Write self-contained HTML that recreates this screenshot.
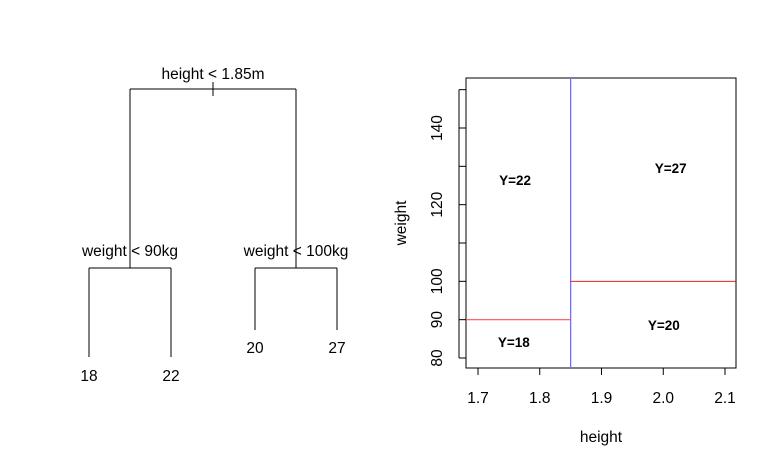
<!DOCTYPE html>
<html><head><meta charset="utf-8"><style>
body{margin:0;background:#fff}
svg{font-family:"Liberation Sans",sans-serif}
</style></head><body>
<svg id="c" width="776" height="467" xmlns="http://www.w3.org/2000/svg"></svg>
<script>
const xTicks=[1.7,1.8,1.9,2.0,2.1];
const yTicks=[80,90,100,110,120,130,140,150];
const yLabels=[80,90,100,120,140];
const splitHeight=1.85;
const splitWeightLeft=90;
const splitWeightRight=100;
const regionLabels=["Y=22","Y=27","Y=18","Y=20"];
const regionX=[1.76,2.012,1.758,2.001];
const regionY=[125.1,128.3,82.9,87.3];
const leafValues=[18,22,20,27];
const X0=1.7,X1=2.1,PX0=478,PX1=725;
const Y0=80,Y1=140,PY0=358,PY1=128;
const FS=15.5;
const sx=v=>PX0+(v-X0)*(PX1-PX0)/(X1-X0);
const sy=v=>PY0-(v-Y0)*(PY0-PY1)/(Y1-Y0);
const svg=document.getElementById('c');
const NS='http://www.w3.org/2000/svg';
function mk(t,a,name,txt){const e=document.createElementNS(NS,t);for(const k in a)e.setAttribute(k,a[k]);


if(txt!==undefined)e.textContent=txt;svg.appendChild(e);return e;}
const L=466,R=736,T=78,B=368;
mk('rect',{x:L,y:T,width:R-L,height:B-T,fill:'none',stroke:'#000'},'plot-frame');
xTicks.forEach(v=>{mk('line',{x1:sx(v),x2:sx(v),y1:B,y2:B+7,stroke:'#000'},'x-tick');
mk('text',{x:sx(v),y:B+35,'text-anchor':'middle','font-size':FS},'x-tick-label',v.toFixed(1));});
mk('line',{x1:sx(1.7),x2:sx(2.1),y1:B,y2:B,stroke:'#000'},'x-axis');
yTicks.forEach(v=>{mk('line',{x1:L,x2:L-7,y1:sy(v),y2:sy(v),stroke:'#000'},'y-tick');});
mk('line',{x1:L-7,x2:L-7,y1:sy(80),y2:sy(150),stroke:'#000'},'y-axis');
yLabels.forEach(v=>{const y=sy(v),x=L-24;mk('text',{x:x,y:y,'text-anchor':'middle','font-size':FS,transform:`rotate(-90 ${x} ${y})`},'y-tick-label',v);});
mk('text',{x:601,y:442,'text-anchor':'middle','font-size':FS},'x-axis-title','height');
mk('text',{x:406,y:223,'text-anchor':'middle','font-size':FS,transform:'rotate(-90 406 223)'},'y-axis-title','weight');
mk('line',{x1:sx(splitHeight),x2:sx(splitHeight),y1:T,y2:B,stroke:'#6f6fff','stroke-width':1.3},'split-height');
mk('line',{x1:L,x2:sx(splitHeight),y1:sy(splitWeightLeft),y2:sy(splitWeightLeft),stroke:'#ff5050','stroke-width':1.2},'split-weight-left');
mk('line',{x1:sx(splitHeight),x2:R,y1:sy(splitWeightRight),y2:sy(splitWeightRight),stroke:'#e00000','stroke-width':0.8},'split-weight-right');
regionLabels.forEach((t,i)=>mk('text',{x:sx(regionX[i]),y:sy(regionY[i]),'text-anchor':'middle','font-size':13.5,'font-weight':'bold'},'region-label',t));
const P='#000';
function ln(a,b,c,d,n){mk('line',{x1:a,y1:b,x2:c,y2:d,stroke:P},n);}
ln(130,89,296,89,'tree-root-branch');ln(213,82,213,96,'tree-root-tick');
ln(130,89,130,268,'tree-left-stem');ln(296,89,296,268,'tree-right-stem');
ln(89,268,171,268,'tree-left-branch');ln(89,268,89,357,'tree-leaf-18');ln(171,268,171,357,'tree-leaf-22');
ln(255,268,337,268,'tree-right-branch');ln(255,268,255,330,'tree-leaf-20');ln(337,268,337,330,'tree-leaf-27');
mk('text',{x:213,y:79,'text-anchor':'middle','font-size':FS},'root-split-label','height < 1.85m');
mk('text',{x:130,y:256,'text-anchor':'middle','font-size':FS},'left-split-label','weight < 90kg');
mk('text',{x:296,y:256,'text-anchor':'middle','font-size':FS},'right-split-label','weight < 100kg');
const lx=[89,171,255,337],ly=[381,381,353,353];
leafValues.forEach((v,i)=>mk('text',{x:lx[i],y:ly[i],'text-anchor':'middle','font-size':FS},'leaf-label',v));
</script>
</body></html>
